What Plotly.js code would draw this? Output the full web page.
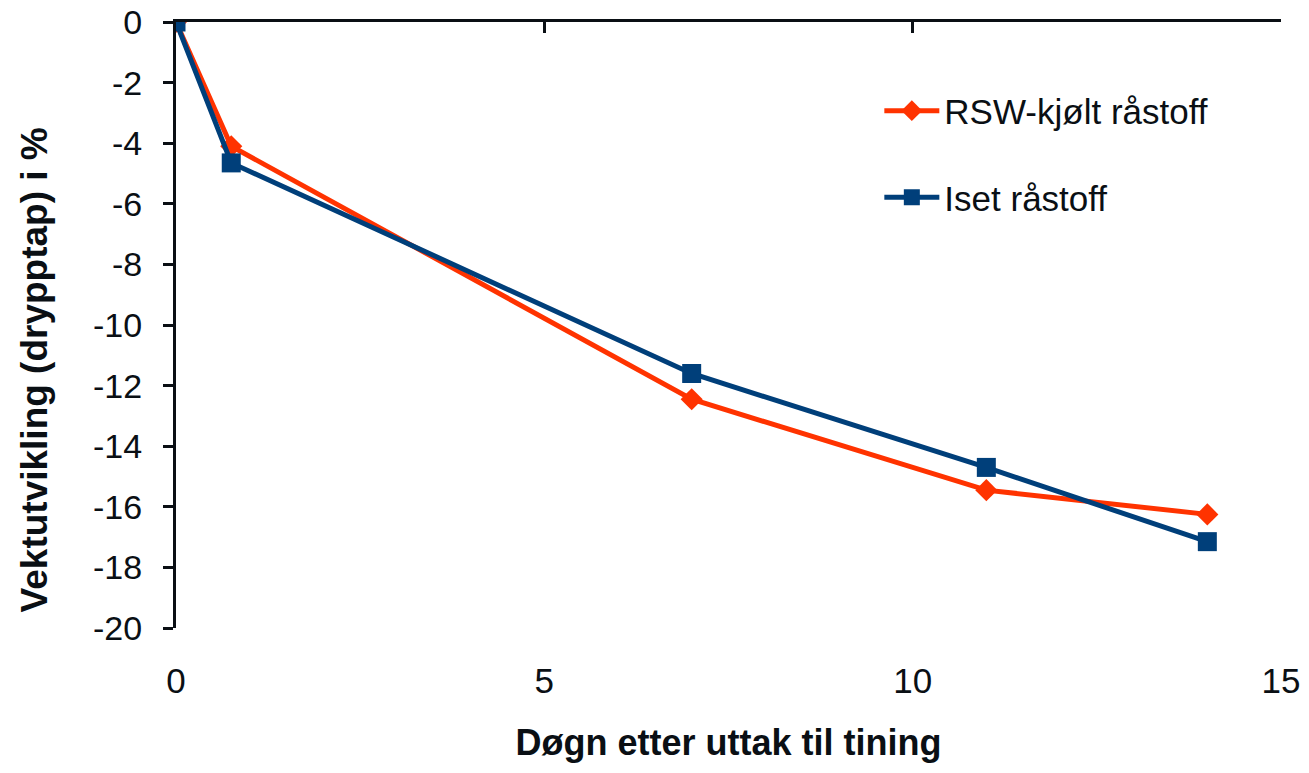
<!DOCTYPE html>
<html><head><meta charset="utf-8">
<script src="https://cdn.plot.ly/plotly-3.0.1.min.js"></script>
<style>html,body{margin:0;padding:0;background:#fff}#c{width:1309px;height:773px}</style>
</head><body><div id="c"></div>
<script>
const days = [0, 0.75, 7, 11, 14];
const rswValues = [0, -4.1, -12.45, -15.45, -16.25];
const isetValues = [0, -4.65, -11.6, -14.7, -17.15];
const seriesNames = ["RSW-kjølt råstoff", "Iset råstoff"];
const xTicks = [0, 5, 10, 15];
const yTicks = [0, -2, -4, -6, -8, -10, -12, -14, -16, -18, -20];
const yTickLabels = ["0", "-2", "-4", "-6", "-8", "-10", "-12", "-14", "-16", "-18", "-20"];
const xTitle = "Døgn etter uttak til tining";
const yTitle = "Vektutvikling (drypptap) i %";

const font = "Liberation Sans, Arial, sans-serif";
const ink = "#0a0f14";
const traces = [
  {x: days, y: rswValues, name: seriesNames[0], type: "scatter", mode: "lines+markers",
   line: {color: "#FF3300", width: 5}, marker: {symbol: "diamond", size: 17, color: "#FF3300"},
   legendgroup: "a", xaxis: "x", yaxis: "y"},
  {x: days, y: isetValues, name: seriesNames[1], type: "scatter", mode: "lines+markers",
   line: {color: "#003F7A", width: 5}, marker: {symbol: "square", size: 19, color: "#003F7A"},
   legendgroup: "b", xaxis: "x", yaxis: "y"},
  {x: days, y: isetValues, type: "scatter", mode: "lines", showlegend: false, hoverinfo: "skip",
   line: {color: "rgba(0,0,0,0)", width: 0}, xaxis: "x2", yaxis: "y"}
];
const layout = {
  width: 1309, height: 773,
  margin: {l: 176, r: 28, t: 22, b: 145},
  paper_bgcolor: "#fff", plot_bgcolor: "#fff",
  font: {family: font, color: ink, size: 32},
  showlegend: true,
  legend: {x: 0.6365, y: 0.902, xanchor: "left", yanchor: "top", bgcolor: "rgba(0,0,0,0)",
           font: {size: 35, family: font, color: ink}, traceorder: "grouped", tracegroupgap: 38,
           itemwidth: 55},
  xaxis: {range: [0, 15], tickvals: xTicks, side: "top", showline: true, linecolor: ink,
          linewidth: 3, ticks: "inside", ticklen: 11, tickwidth: 3, tickcolor: ink,
          showticklabels: false, showgrid: false, zeroline: false, fixedrange: true},
  xaxis2: {range: [0, 15], tickvals: xTicks, overlaying: "x", side: "bottom", anchor: "y",
           showline: false, ticks: "outside", ticklen: 22, tickcolor: "rgba(0,0,0,0)",
           showgrid: false, zeroline: false, tickfont: {size: 35, family: font, color: ink},
           title: {text: "<b>" + xTitle + "</b>", font: {size: 36, family: font, color: ink}, standoff: 30}},
  yaxis: {range: [-20, 0], tickvals: yTicks, ticktext: yTickLabels, showline: true, linecolor: ink, linewidth: 3,
          ticks: "outside", ticklen: 10, tickwidth: 3, tickcolor: ink, ticklabelstandoff: 14,
          showgrid: false, zeroline: false, tickfont: {size: 34, family: font, color: ink}},
  annotations: [
    {text: "<b>" + yTitle + "</b>", textangle: -90, xref: "paper", yref: "paper",
     x: -0.128, y: 0.426, xanchor: "center", yanchor: "middle", showarrow: false,
     font: {size: 37, family: font, color: ink}}
  ]
};
Plotly.newPlot("c", traces, layout, {displayModeBar: false, staticPlot: true});
</script></body></html>
